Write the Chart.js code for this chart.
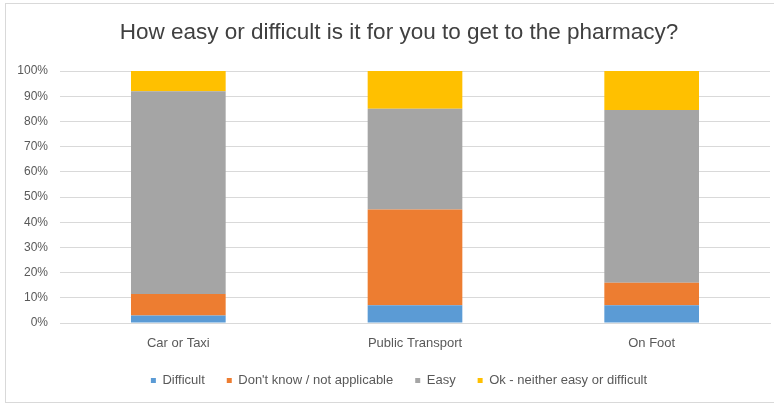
<!DOCTYPE html>
<html>
<head>
<meta charset="utf-8">
<script src="https://cdn.jsdelivr.net/npm/chart.js@4.4.1/dist/chart.umd.min.js"></script>
<style>
  html, body { margin: 0; padding: 0; background: #fff; }
  #wrap { position: relative; width: 774px; height: 405px; }
  #frame { position: absolute; left: 5px; top: 3px; width: 772px; height: 400px; border: 1px solid #d9d9d9; box-sizing: border-box; pointer-events: none; }
  canvas { position: absolute; left: 0; top: 0; }
</style>
</head>
<body>
<div id="wrap">
  <canvas id="c" width="774" height="405"></canvas>
  <div id="frame"></div>
</div>
<script>
const categories = ["Car or Taxi", "Public Transport", "On Foot"];
const seriesNames = ["Difficult", "Don't know / not applicable", "Easy", "Ok - neither easy or difficult"];
const difficult = [3, 7, 7];
const dontKnow = [8.5, 38, 9];
const easy = [80.5, 40, 68.5];
const okNeither = [8, 15, 15.5];
const yTicks = [0, 10, 20, 30, 40, 50, 60, 70, 80, 90, 100];
const colors = ["#5B9BD5", "#ED7D31", "#A5A5A5", "#FFC000"];

const font = "'Liberation Sans', Arial, sans-serif";
const seriesValues = [difficult, dontKnow, easy, okNeither];

// shift the centred title and legend slightly right, as in the reference
const shiftBoxes = {
  id: 'shiftBoxes',
  afterLayout(chart) {
    if (chart.titleBlock) chart.titleBlock.left += 28;
    if (chart.legend) chart.legend.left += 28;
  }
};

new Chart(document.getElementById('c'), {
  type: 'bar',
  data: {
    labels: categories,
    datasets: seriesNames.map((n, i) => ({
      label: n,
      data: seriesValues[i],
      backgroundColor: colors[i],
      borderWidth: 0,
      barPercentage: 0.4,
      categoryPercentage: 1.0
    }))
  },
  plugins: [shiftBoxes],
  options: {
    responsive: false,
    animation: false,
    layout: { padding: { left: 0, right: 4, top: 0, bottom: 8 } },
    plugins: {
      title: {
        display: true,
        text: "How easy or difficult is it for you to get to the pharmacy?",
        color: '#404040',
        font: { family: font, size: 22.5, weight: 'normal' },
        padding: { top: 19, bottom: 25 }
      },
      legend: {
        position: 'bottom',
        labels: {
          color: '#595959',
          font: { family: font, size: 13 },
          boxWidth: 5,
          boxHeight: 5,
          padding: 22
        }
      },
      tooltip: { enabled: false }
    },
    scales: {
      x: {
        stacked: true,
        grid: { display: false, drawTicks: false },
        border: { display: true, color: '#d9d9d9' },
        afterFit: (s) => { s.height = 29; },
        ticks: { color: '#595959', font: { family: font, size: 13 }, padding: 13 }
      },
      y: {
        stacked: true,
        min: 0,
        max: 100,
        afterBuildTicks: (s) => { s.ticks = yTicks.map(v => ({ value: v })); },
        afterFit: (s) => { s.width = 60; },
        grid: { color: '#d9d9d9', drawTicks: false },
        border: { display: false },
        ticks: {
          color: '#595959',
          font: { family: font, size: 12 },
          padding: 12,
          callback: (v) => v + '%'
        }
      }
    }
  }
});
</script>
</body>
</html>
